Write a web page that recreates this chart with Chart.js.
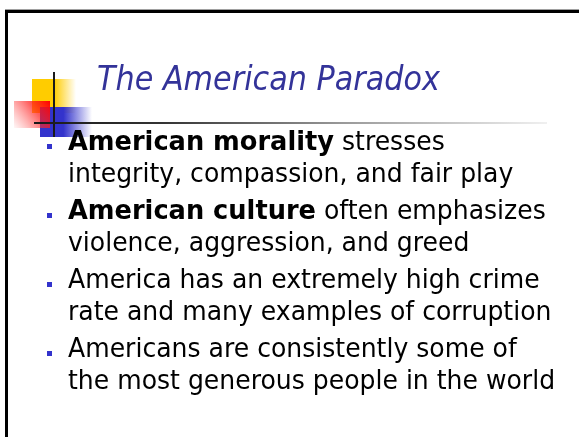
<!DOCTYPE html>
<html><head><meta charset="utf-8">
<script src="https://cdn.jsdelivr.net/npm/chart.js@4.4.1/dist/chart.umd.min.js"></script>
<style>html,body{margin:0;padding:0;background:#fff;overflow:hidden}canvas{display:block}</style>
</head><body>
<canvas id="c" width="579" height="437"></canvas>
<script>
// Slide content
const titleText = "The American Paradox";
// each bullet: list of lines; each line: list of [text, bold]
const bullet1 = [[["American morality", true], [" stresses", false]], [["integrity, compassion, and fair play", false]]];
const bullet2 = [[["American culture", true], [" often emphasizes", false]], [["violence, aggression, and greed", false]]];
const bullet3 = [[["America has an extremely high crime", false]], [["rate and many examples of corruption", false]]];
const bullet4 = [[["Americans are consistently some of", false]], [["the most generous people in the world", false]]];
const bullets = [bullet1, bullet2, bullet3, bullet4];

const slidePlugin = {
  id: 'slide',
  beforeDraw(chart) {
    const ctx = chart.ctx;
    const W = chart.width, Hh = chart.height;
    ctx.save();
    ctx.fillStyle = '#ffffff';
    ctx.fillRect(0, 0, W, Hh);
    // frame
    ctx.fillStyle = '#a0a0a0';
    ctx.fillRect(5, 9, W - 5, 1);
    ctx.fillStyle = '#000000';
    ctx.fillRect(5, 10, W - 5, 3);
    ctx.fillRect(5, 10, 3, Hh - 10);

    // yellow square
    let g = ctx.createLinearGradient(32, 0, 76, 0);
    g.addColorStop(0, '#FFCC00'); g.addColorStop(0.5, '#FFCC00'); g.addColorStop(1, 'rgba(255,204,0,0)');
    ctx.fillStyle = g; ctx.fillRect(32, 79, 44, 34);
    // blue square
    g = ctx.createLinearGradient(40, 0, 92, 0);
    g.addColorStop(0, '#3333CC'); g.addColorStop(0.45, '#3333CC'); g.addColorStop(1, 'rgba(51,51,204,0)');
    ctx.fillStyle = g; ctx.fillRect(40, 107, 52, 30);
    // red square
    g = ctx.createLinearGradient(50, 101, 14, 128);
    g.addColorStop(0, 'rgba(255,0,0,1)'); g.addColorStop(0.4, 'rgba(255,30,30,0.7)'); g.addColorStop(1, 'rgba(255,90,90,0.05)');
    ctx.fillStyle = g; ctx.fillRect(14, 101, 36, 27);
    // vertical line
    ctx.fillStyle = '#1a1a1a';
    ctx.fillRect(53, 72, 2, 65);
    // horizontal line
    g = ctx.createLinearGradient(34, 0, 547, 0);
    g.addColorStop(0, '#1a1a1a'); g.addColorStop(0.25, '#333333'); g.addColorStop(0.6, '#999999'); g.addColorStop(1, '#f0f0f0');
    ctx.fillStyle = g; ctx.fillRect(34, 122, 513, 2);

    // title
    ctx.textBaseline = 'alphabetic';
    ctx.fillStyle = '#333399';
    ctx.font = 'italic 34px "DejaVu Sans"';
    ctx.save(); ctx.translate(97, 90); ctx.scale(0.89, 1); ctx.fillText(titleText, 0, 0); ctx.restore();

    // bullets
    const hsN = 0.93, hsB = 0.95, size = 27;
    const lineStep = 32, bulletStep = 37;
    let y = 150;
    bullets.forEach((b) => {
      ctx.fillStyle = '#3333CC';
      ctx.fillRect(47, y - 6, 5, 5);
      b.forEach((line, li) => {
        if (li > 0) y += lineStep;
        let x = 68;
        line.forEach(([t, bold]) => {
          const hs = bold ? hsB : hsN;
          ctx.font = (bold ? 'bold ' : '') + size + 'px "DejaVu Sans"';
          ctx.fillStyle = '#000000';
          ctx.save(); ctx.translate(x, y); ctx.scale(hs, 1); ctx.fillText(t, 0, 0); ctx.restore();
          x += ctx.measureText(t).width * hs;
        });
      });
      y += bulletStep;
    });
    ctx.restore();
  }
};

new Chart(document.getElementById('c'), {
  type: 'scatter',
  data: { datasets: [] },
  options: {
    responsive: false,
    animation: false,
    events: [],
    plugins: { legend: { display: false }, tooltip: { enabled: false }, title: { display: false } },
    scales: { x: { display: false }, y: { display: false } }
  },
  plugins: [slidePlugin]
});
</script>
</body></html>
